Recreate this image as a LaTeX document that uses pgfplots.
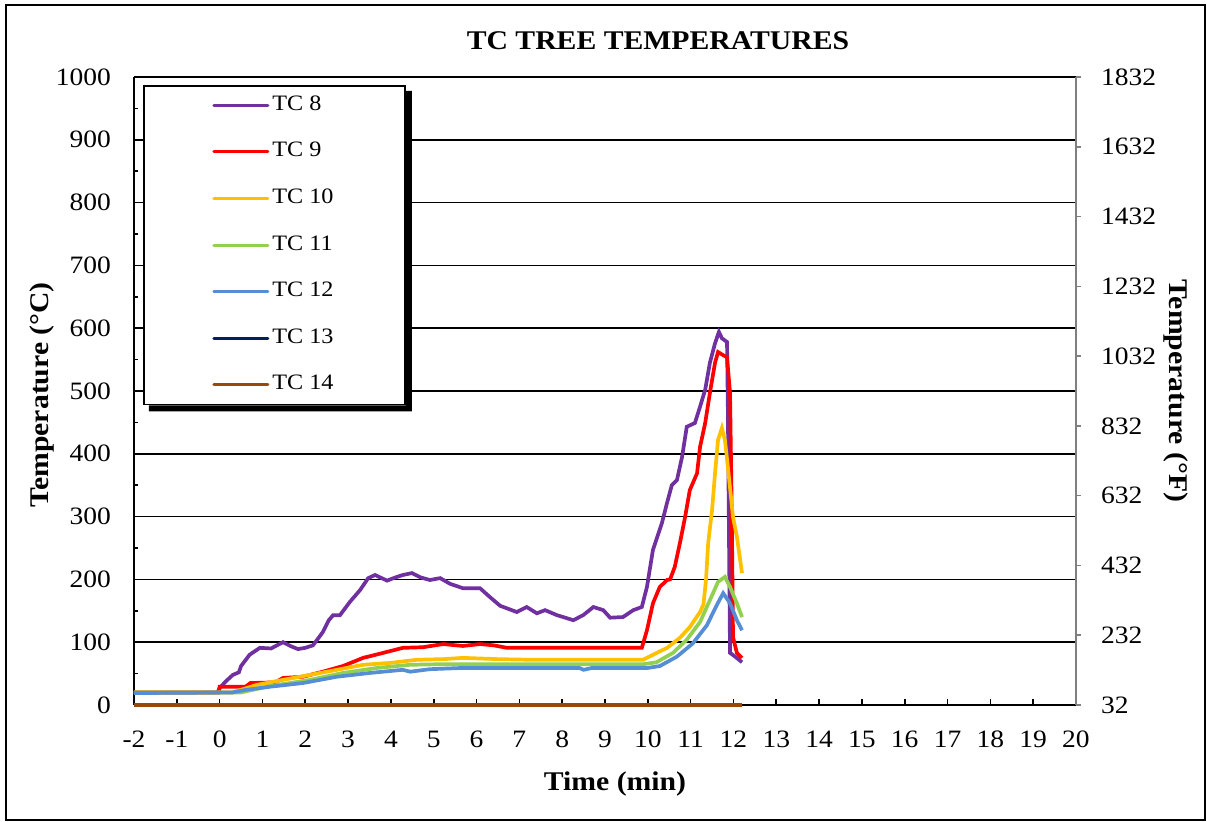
\documentclass[border=0pt]{standalone}
\usepackage{fontspec}
\setmainfont{Liberation Serif}[FakeStretch=1.1]
\usepackage{pgfplots}
\pgfplotsset{compat=1.18}
\usepackage{pgfplotstable}
\usetikzlibrary{calc}

\definecolor{cpurple}{HTML}{7030A0}
\definecolor{cred}{HTML}{FF0000}
\definecolor{corange}{HTML}{FFC000}
\definecolor{cgreen}{HTML}{92D050}
\definecolor{cblue}{HTML}{558ED5}
\definecolor{cnavy}{HTML}{002060}
\definecolor{cbrown}{HTML}{984807}
\definecolor{cgray}{HTML}{808080}

\pgfplotstableread{
t T
-2 20
-0.05 20
0.0 27
0.15 38
0.31 48
0.45 52
0.5 62
0.7 80
0.94 91
1.2 90
1.48 100
1.65 94
1.83 89
2.0 91
2.18 95
2.41 116
2.55 135
2.65 143
2.81 143
3.04 164
3.28 183
3.47 202
3.63 207
3.91 198
4.1 203
4.28 207
4.49 210
4.7 203
4.91 199
5.15 202
5.38 193
5.68 186
6.08 186
6.31 172
6.55 158
6.94 148
7.17 156
7.41 146
7.6 151
7.88 143
8.26 135
8.49 143
8.73 156
8.96 151
9.12 139
9.42 140
9.66 151
9.86 156
9.98 188
10.12 247
10.33 290
10.45 322
10.56 350
10.68 358
10.8 395
10.91 443
11.1 449
11.22 475
11.34 502
11.45 545
11.57 576
11.66 594
11.73 584
11.85 578
11.87 470
11.92 83
12.04 77
12.2 68
}\tcEight

\pgfplotstableread{
t T
-2 20
-0.02 20
0.0 29
0.6 29
0.72 35
1.3 36
1.48 43
1.95 45
2.41 53
2.88 62
3.35 75
3.82 83
4.28 91
4.75 92
5.22 97
5.68 94
6.08 97
6.4 95
6.71 91
9.86 91
9.98 119
10.12 162
10.28 188
10.45 199
10.52 200
10.63 220
10.75 258
10.87 299
10.98 342
11.15 369
11.22 411
11.34 449
11.45 497
11.57 545
11.64 562
11.76 557
11.85 554
11.92 497
11.96 310
11.99 108
12.08 83
12.2 75
}\tcNine

\pgfplotstableread{
t T
-2 20
0.3 20
0.87 32
1.48 40
2.11 48
2.74 56
3.35 64
3.98 67
4.61 72
5.22 73
5.68 75
6.5 73
7.25 72
9.89 72
10.12 80
10.45 91
10.75 107
10.98 124
11.22 148
11.3 160
11.36 200
11.41 258
11.5 310
11.57 369
11.64 422
11.73 441
11.8 422
11.87 379
11.99 299
12.08 268
12.2 210
}\tcTen

\pgfplotstableread{
t T
-2 20
0.5 20
1.17 30
2.11 40
2.88 51
3.68 59
4.45 64
5.22 65
9.9 65
10.2 68
10.59 83
10.91 104
11.22 132
11.45 167
11.64 196
11.8 204
11.92 188
12.08 162
12.2 140
}\tcEleven

\pgfplotstableread{
t T
-2 19
0.3 20
0.6 24
1.17 29
1.95 35
2.74 45
3.51 51
4.28 56
4.45 53
4.91 57
5.68 59
8.4 59
8.5 56
8.7 59
10.0 59
10.28 62
10.68 77
11.05 98
11.38 127
11.61 159
11.76 178
11.92 162
12.08 135
12.2 119
}\tcTwelve

\pgfplotstableread{
t T
-2 0
12.2 0
}\tcThirteen

\pgfplotstableread{
t T
-2 0
12.2 0
}\tcFourteen

\begin{document}
\begin{tikzpicture}
\useasboundingbox (-67pt,-58.5pt) rectangle (536.5pt,352.5pt);
\draw[line width=1pt] (-64pt,-57.5pt) rectangle (535.5pt,350pt);

\begin{axis}[
  scale only axis, width=471pt, height=314pt,
  xmin=-2, xmax=20, ymin=0, ymax=1000,
  axis x line*=bottom, axis y line*=left,
  axis line style={line width=0.9pt, black},
  xtick={-2,-1,0,1,2,3,4,5,6,7,8,9,10,11,12,13,14,15,16,17,18,19,20},
  xticklabels={-2,-1,0,1,2,3,4,5,6,7,8,9,10,11,12,13,14,15,16,17,18,19,20},
  ytick={0,100,...,1000},
  yticklabels={0,100,200,300,400,500,600,700,800,900,1000},
  minor ytick={50,150,...,950},
  tick align=inside,
  major tick length=3pt, minor tick length=2pt,
  tick style={line width=0.8pt, black},
  ymajorgrids, grid style={line width=0.75pt, black},
  tick label style={font=\fontsize{12.5}{15}\selectfont},
  xticklabel style={yshift=-9.5pt},
  yticklabel style={xshift=-8pt},
  clip=false,
  legend cell align=left,
  legend style={name=leg, at={(axis description cs:0,1)}, anchor=north west,
    xshift=4.5pt, yshift=-4pt, draw=black, line width=0.8pt,
    fill=white, inner xsep=34.3pt, inner ysep=3.3pt,
    font=\fontsize{11}{13}\selectfont, row sep=10.3pt,
    nodes={inner sep=1.5pt, text height=7.5pt, text depth=2.5pt}},
  legend image code/.code={\draw[#1, line width=1.5pt, line cap=round] (0pt,0pt) -- (27pt,0pt);},
  every axis plot/.append style={line width=1.85pt},
]
\addplot[cpurple, no marks] table[x=t, y=T] {\tcEight};
\addlegendentry{TC 8}
\addplot[cred, no marks] table[x=t, y=T] {\tcNine};
\addlegendentry{TC 9}
\addplot[corange, no marks] table[x=t, y=T] {\tcTen};
\addlegendentry{TC 10}
\addplot[cgreen, no marks] table[x=t, y=T] {\tcEleven};
\addlegendentry{TC 11}
\addplot[cblue, no marks] table[x=t, y=T] {\tcTwelve};
\addlegendentry{TC 12}
\addplot[cnavy, no marks] table[x=t, y=T] {\tcThirteen};
\addlegendentry{TC 13}
\addplot[cbrown, no marks] table[x=t, y=T] {\tcFourteen};
\addlegendentry{TC 14}
\end{axis}

\fill[black] ($(leg.south west)+(3pt,0pt)$) -- ($(leg.south west)+(3pt,-3pt)$) -- ($(leg.south east)+(3pt,-3pt)$) -- ($(leg.north east)+(3pt,-3pt)$) -- ($(leg.north east)+(0pt,-3pt)$) -- (leg.south east) -- cycle;

\begin{axis}[
  scale only axis, width=471pt, height=314pt,
  xmin=-2, xmax=20, ymin=32, ymax=1832,
  axis x line=none, axis y line*=right,
  axis line style={line width=0.9pt, cgray},
  ytick={32,232,...,1832},
  yticklabels={32,232,432,632,832,1032,1232,1432,1632,1832},
  tick align=outside, major tick length=2.5pt,
  tick style={line width=0.8pt, cgray},
  tick label style={font=\fontsize{12.5}{15}\selectfont},
  yticklabel style={xshift=6.5pt},
]
\end{axis}

\node[font=\fontsize{13.5}{16}\selectfont\bfseries] at (262pt,332pt) {TC TREE TEMPERATURES};
\node[font=\fontsize{13.5}{16}\selectfont\bfseries] at (240.5pt,-39.5pt) {Time (min)};
\node[font=\fontsize{13.5}{16}\selectfont\bfseries, rotate=90] at (-46pt,155pt) {Temperature (°C)};
\node[font=\fontsize{13.5}{16}\selectfont\bfseries, rotate=-90] at (521pt,157pt) {Temperature (°F)};
\end{tikzpicture}
\end{document}
